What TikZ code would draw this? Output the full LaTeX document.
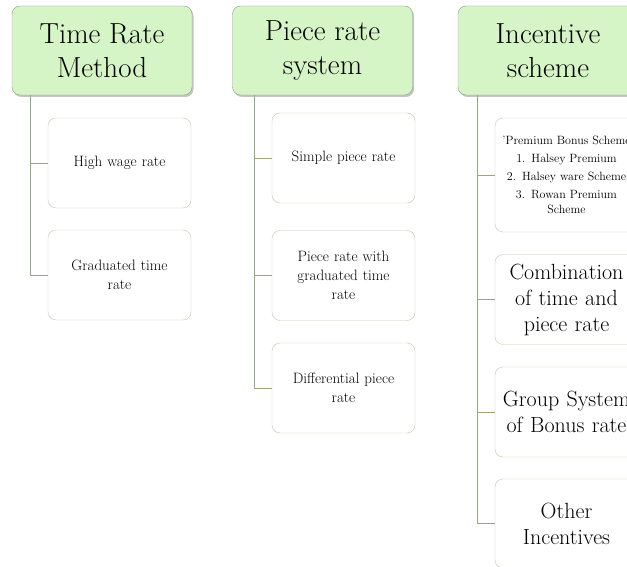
\documentclass[tikz,border=0pt]{standalone}
\usepackage{tikz}
\usetikzlibrary{shadows}

\definecolor{hdrgreen}{RGB}{214,245,198}
\definecolor{hdrline}{RGB}{140,160,130}
\definecolor{leafline}{RGB}{188,204,165}
\definecolor{linkline}{RGB}{150,170,130}

\tikzset{
  header/.style={draw=hdrline,fill=hdrgreen,rounded corners=8pt,
    minimum width=180pt,minimum height=89pt,align=center,
    font=\fontsize{29}{34}\selectfont,
    drop shadow={shadow xshift=1.5pt,shadow yshift=-2pt,fill=black!45}},
  leaf/.style={draw=leafline,fill=white,rounded corners=8pt,inner xsep=0pt,
    minimum width=143pt,minimum height=90pt,align=center,text width=143pt},
  small/.style={font=\fontsize{15}{19}\selectfont},
  big/.style={font=\fontsize{22}{26}\selectfont},
  link/.style={draw=linkline,thick}
}

\begin{document}
\begin{tikzpicture}[x=1pt,y=-1pt]
\useasboundingbox (0,0) rectangle (627,567);
\clip (0,0) rectangle (627,567);
\fill[white] (0,0) rectangle (627,567);

% column headers
\node[header] (t1) at (102,50.5) {Time Rate\\Method};
\node[header] (t2) at (322.5,50.5) {Piece rate\\system};
\node[header] (t3) at (548,50.5) {Incentive\\scheme};

% time rate
\node[leaf,small] (a1) at (119.5,163) {High wage rate};
\node[leaf,small] (a2) at (119.5,275) {Graduated time\\rate};

% piece rate
\node[leaf,small] (b1) at (343.5,158) {Simple piece rate};
\node[leaf,small] (b2) at (343.5,275.5) {Piece rate with\\graduated time\\rate};
\node[leaf,small] (b3) at (343.5,388) {Differential piece\\rate};

% incentive
\node[leaf,minimum height=114pt,font=\fontsize{12}{15}\selectfont] (c1) at (566.5,175)
  {'Premium Bonus Scheme\\[3pt] 1. Halsey Premium\\[3pt] 2. Halsey ware Scheme\\[3pt] 3. Rowan Premium\\Scheme};
\node[leaf,big] (c2) at (566.5,299.5) {Combination\\of time and\\piece rate};
\node[leaf,big] (c3) at (566.5,412) {Group System\\of Bonus rate};
\node[leaf,big,minimum height=89pt] (c4) at (566.5,523.5) {Other\\Incentives};

% connectors
\draw[link] ([xshift=19pt]t1.south west) |- (a1.west);
\draw[link] ([xshift=19pt]t1.south west) |- (a2.west);
\draw[link] ([xshift=22pt]t2.south west) |- (b1.west);
\draw[link] ([xshift=22pt]t2.south west) |- (b2.west);
\draw[link] ([xshift=22pt]t2.south west) |- (b3.west);
\foreach \n in {c1,c2,c3,c4}
  \draw[link] ([xshift=20pt]t3.south west) |- (\n.west);
\end{tikzpicture}
\end{document}
